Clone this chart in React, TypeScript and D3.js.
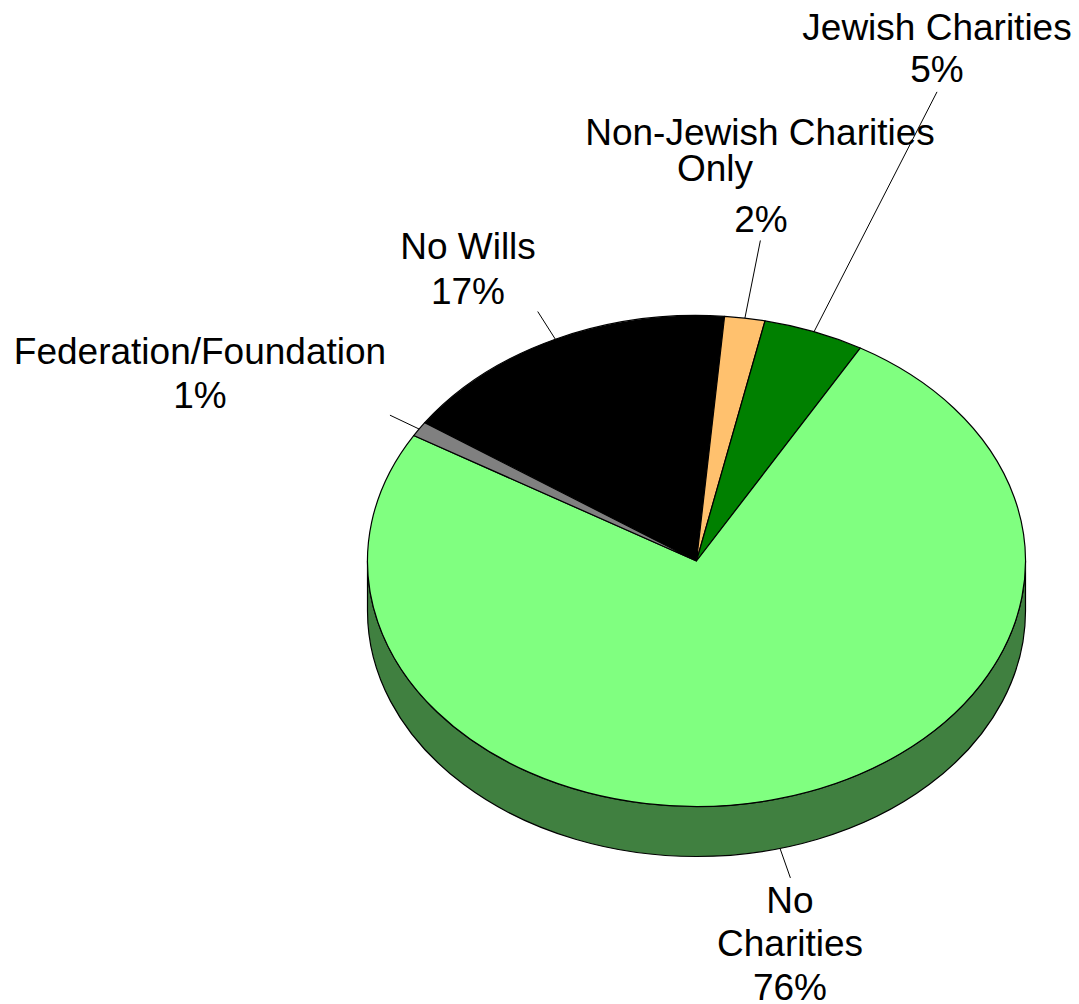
import React from "react";
import * as d3 from "d3";

// ---- data ----
const categories = ["No Wills", "Non-Jewish Charities Only", "Jewish Charities", "No Charities", "Federation/Foundation"];
const values = [17, 2, 5, 76, 1];
const labelLines = [["No Wills"], ["Non-Jewish Charities", "Only"], ["Jewish Charities"], ["No", "Charities"], ["Federation/Foundation"]];
const topColors = ["#000000", "#FFC16E", "#008000", "#80FF80", "#808080"];
const sideColors = ["#000000", "#A07840", "#004000", "#408040", "#404040"];

// ---- layout ----
const W = 1079, H = 1004;
const cx = 696.5, cy = 561, rx = 329, ry = 245.5, depth = 50;
const startDeg = -55.7;
const fontSize = 37;
const leaderOuter = [1.125, 1.32, 2.046, 1.124, 1.105];
const labelX = [[468, 468], [760, 715, 761], [937, 937], [790, 790, 790], [200, 200]];
const labelBaselines = [[259, 304], [145, 181, 232], [40, 82], [913, 956, 1000], [364, 408]];

const pt = (a: number, dy = 0, k = 1) => [cx + k * rx * Math.sin(a), cy + dy - k * ry * Math.cos(a)];

export default function App() {
  const s0 = (startDeg * Math.PI) / 180;
  const pie = d3.pie<number>().sort(null).value((d) => d).startAngle(s0).endAngle(s0 + 2 * Math.PI);
  const arcs = pie(values);

  const topPath = (a0: number, a1: number) => {
    const [x0, y0] = pt(a0);
    const [x1, y1] = pt(a1);
    const large = a1 - a0 > Math.PI ? 1 : 0;
    return `M${cx},${cy}L${x0},${y0}A${rx},${ry} 0 ${large} 1 ${x1},${y1}Z`;
  };

  const sidePaths: { d: string; fill: string }[] = [];
  arcs.forEach((a, i) => {
    for (const off of [-2 * Math.PI, 0, 2 * Math.PI]) {
      const lo = Math.max(a.startAngle, Math.PI / 2 + off);
      const hi = Math.min(a.endAngle, (3 * Math.PI) / 2 + off);
      if (hi > lo) {
        const [x0, y0] = pt(lo);
        const [x1, y1] = pt(hi);
        const [x2, y2] = pt(hi, depth);
        const [x3, y3] = pt(lo, depth);
        const large = hi - lo > Math.PI ? 1 : 0;
        sidePaths.push({
          d: `M${x0},${y0}A${rx},${ry} 0 ${large} 1 ${x1},${y1}L${x2},${y2}A${rx},${ry} 0 ${large} 0 ${x3},${y3}Z`,
          fill: sideColors[i],
        });
      }
    }
  });

  return (
    <svg width={W} height={H} style={{ position: "absolute", left: 0, top: 0 }} fontFamily="'Liberation Sans', Arial, sans-serif">
      <rect width={W} height={H} fill="#fff" />
      {sidePaths.map((p, i) => (
        <path key={"s" + i} d={p.d} fill={p.fill} stroke="#000" strokeWidth={1.2} />
      ))}
      {arcs.map((a, i) => (
        <path key={"t" + i} d={topPath(a.startAngle, a.endAngle)} fill={topColors[i]} stroke="#000" strokeWidth={1.2} strokeLinejoin="round" />
      ))}
      {arcs.map((a, i) => {
        const mid = (a.startAngle + a.endAngle) / 2;
        const onFront = Math.cos(mid) < 0;
        const dy = onFront ? depth : 0;
        const [x0, y0] = pt(mid, dy, 1);
        const [x1, y1] = pt(mid, dy, leaderOuter[i]);
        return <line key={"l" + i} x1={x0} y1={y0} x2={x1} y2={y1} stroke="#000" strokeWidth={1} />;
      })}
      {categories.map((c, i) => {
        const lines = [...labelLines[i], `${values[i]}%`];
        return (
          <text key={"x" + i} fontSize={fontSize} textAnchor="middle" fill="#000">
            {lines.map((t, j) => (
              <tspan key={j} x={labelX[i][j]} y={labelBaselines[i][j]}>
                {t}
              </tspan>
            ))}
          </text>
        );
      })}
    </svg>
  );
}
